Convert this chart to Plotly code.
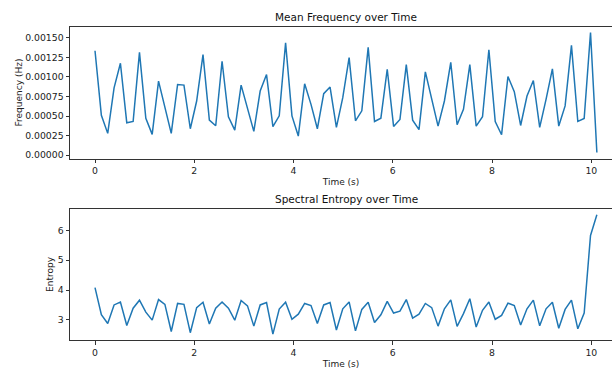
import numpy as np
import plotly.graph_objects as go

# Time axis: frames every 0.128 s
n_frames = 80
frame_step = 0.128
time_s = [round(i * frame_step, 3) for i in range(n_frames)]

mean_freq = [
    0.001335, 0.000511, 0.000279, 0.000862, 0.001175, 0.000414, 0.000431, 0.001315, 0.000473, 0.000266,
    0.000947, 0.000620, 0.000279, 0.000904, 0.000896, 0.000338, 0.000693, 0.001285, 0.000448, 0.000376,
    0.001201, 0.000491, 0.000321, 0.000896, 0.000609, 0.000304, 0.000820, 0.001031, 0.000364, 0.000503,
    0.001437, 0.000503, 0.000245, 0.000913, 0.000650, 0.000338, 0.000786, 0.000871, 0.000355, 0.000735,
    0.001247, 0.000440, 0.000567, 0.001378, 0.000431, 0.000473, 0.001099, 0.000368, 0.000456, 0.001158,
    0.000448, 0.000326, 0.001065, 0.000719, 0.000372, 0.000693, 0.001188, 0.000389, 0.000587, 0.001158,
    0.000372, 0.000491, 0.001348, 0.000431, 0.000262, 0.001006, 0.000812, 0.000380, 0.000757, 0.000955,
    0.000355, 0.000714, 0.001103, 0.000372, 0.000630, 0.001404, 0.000431, 0.000469, 0.001568, 0.000034,
]

spectral_entropy = [
    4.08, 3.17, 2.88, 3.50, 3.60, 2.81, 3.39, 3.66, 3.26, 2.99,
    3.68, 3.52, 2.61, 3.55, 3.52, 2.57, 3.41, 3.59, 2.86, 3.39,
    3.60, 3.39, 2.99, 3.65, 3.47, 2.79, 3.50, 3.58, 2.52, 3.36,
    3.59, 3.02, 3.19, 3.55, 3.48, 2.88, 3.50, 3.58, 2.66, 3.37,
    3.60, 2.63, 3.35, 3.59, 2.91, 3.17, 3.62, 3.23, 3.29, 3.68,
    3.06, 3.19, 3.55, 3.41, 2.79, 3.37, 3.67, 2.78, 3.21, 3.71,
    2.76, 3.32, 3.60, 3.02, 3.15, 3.56, 3.48, 2.83, 3.37, 3.66,
    2.80, 3.37, 3.59, 2.72, 3.35, 3.66, 2.70, 3.23, 5.83, 6.52,
]

x_ticks = [0, 2, 4, 6, 8, 10]
freq_ticks = [0.0, 0.00025, 0.0005, 0.00075, 0.001, 0.00125, 0.0015]
entropy_ticks = [3, 4, 5, 6]

W, H = 612, 369
LINE_COLOR = "#1f77b4"
AX_COLOR = "#333333"
FONT = "DejaVu Sans"
TICK_FONT = dict(family=FONT, size=9.3, color="#222")
LABEL_FONT = dict(family=FONT, size=9, color="#222")


def padded(vals, frac=0.05):
    lo, hi = min(vals), max(vals)
    span = hi - lo
    return [lo - frac * span, hi + frac * span]


fig = go.Figure()
fig.add_trace(go.Scatter(x=time_s, y=mean_freq, mode="lines",
                         line=dict(color=LINE_COLOR, width=1.5),
                         xaxis="x", yaxis="y", showlegend=False))
fig.add_trace(go.Scatter(x=time_s, y=spectral_entropy, mode="lines",
                         line=dict(color=LINE_COLOR, width=1.5),
                         xaxis="x2", yaxis="y2", showlegend=False))

L = 70
x_range = [-0.504, -0.504 + (W - L) / 49.63]

common_x = dict(range=x_range, tickvals=x_ticks, showgrid=False, zeroline=False,
                showline=True, linecolor=AX_COLOR, linewidth=1, mirror=True,
                ticks="outside", ticklen=3.5, tickwidth=0.8, tickcolor=AX_COLOR,
                tickfont=TICK_FONT,
                title=dict(text="Time (s)", font=LABEL_FONT, standoff=3))
common_y = dict(showgrid=False, zeroline=False, showline=True, linecolor=AX_COLOR,
                linewidth=1, mirror=False, ticks="outside", ticklen=3.5, tickwidth=0.8,
                tickcolor=AX_COLOR, tickfont=TICK_FONT)

top = (26.7, 159.4)
bot = (210.0, 342.0)

fig.update_layout(
    width=W, height=H,
    margin=dict(l=L, r=0, t=0, b=0),
    paper_bgcolor="white", plot_bgcolor="white",
    xaxis=dict(common_x, domain=[0, 1], anchor="y"),
    yaxis=dict(common_y, domain=[1 - top[1] / H, 1 - top[0] / H], anchor="x",
               range=padded(mean_freq), tickvals=freq_ticks, tickformat=".5f",
               title=dict(text="Frequency (Hz)", font=LABEL_FONT, standoff=1)),
    xaxis2=dict(common_x, domain=[0, 1], anchor="y2"),
    yaxis2=dict(common_y, domain=[1 - bot[1] / H, 1 - bot[0] / H], anchor="x2",
                range=padded(spectral_entropy), tickvals=entropy_ticks,
                title=dict(text="Entropy", font=LABEL_FONT, standoff=2)),
    annotations=[
        dict(text="Mean Frequency over Time", x=(346 - L) / (W - L), y=1 - 17.5 / H,
             xref="paper", yref="paper", showarrow=False, yanchor="middle",
             font=dict(family=FONT, size=10.5, color="#111")),
        dict(text="Spectral Entropy over Time", x=(346 - L) / (W - L), y=1 - 200.5 / H,
             xref="paper", yref="paper", showarrow=False, yanchor="middle",
             font=dict(family=FONT, size=10.5, color="#111")),
    ],
)

fig.write_html("out.html")
